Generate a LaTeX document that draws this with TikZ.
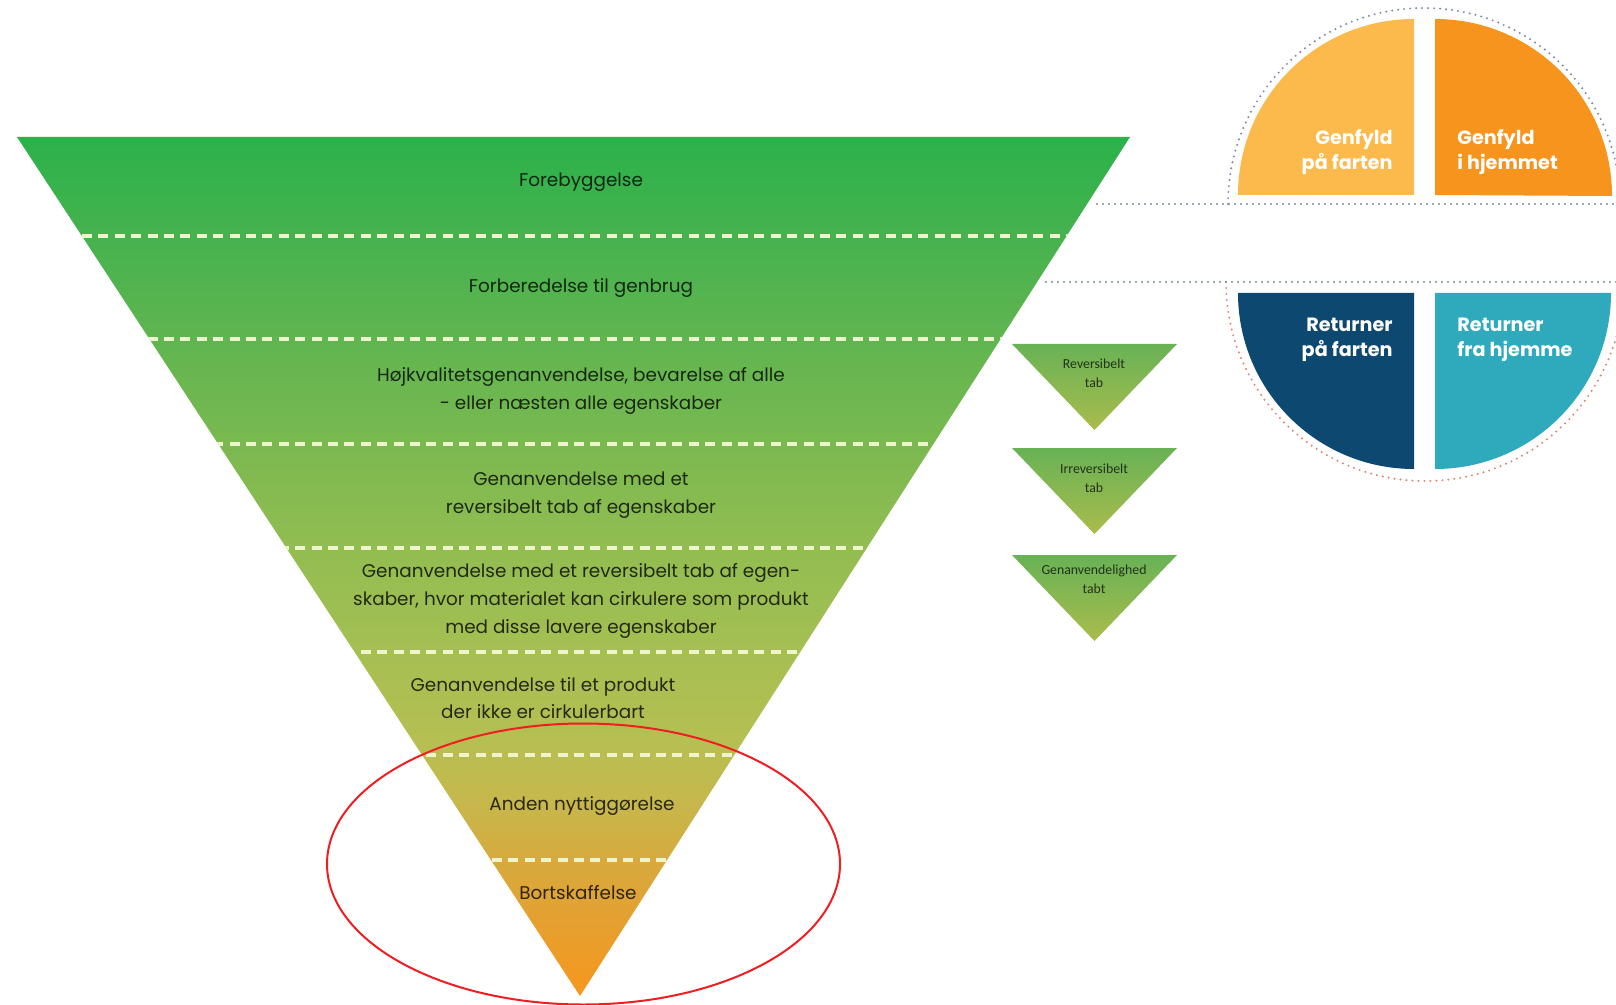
\documentclass[tikz,border=0pt]{standalone}
\usepackage{fontspec}
\setmainfont{Poppins}
\newfontfamily\minifont{Carlito}

% colours of the hierarchy, top to tip
\definecolor{lvlA}{RGB}{43,178,74}
\definecolor{lvlB}{RGB}{70,178,78}
\definecolor{lvlC}{RGB}{96,181,80}
\definecolor{lvlD}{RGB}{122,185,80}
\definecolor{lvlE}{RGB}{146,189,81}
\definecolor{lvlF}{RGB}{165,191,82}
\definecolor{lvlG}{RGB}{182,191,82}
\definecolor{lvlH}{RGB}{198,184,76}
\definecolor{lvlI}{RGB}{214,170,62}
\definecolor{lvlJ}{RGB}{229,160,48}
\definecolor{lvlK}{RGB}{246,151,30}
\definecolor{miniTop}{RGB}{104,178,86}
\definecolor{miniBot}{RGB}{170,188,76}
\definecolor{sepline}{RGB}{238,244,204}
\definecolor{refillgo}{RGB}{253,186,76}
\definecolor{refillhome}{RGB}{247,148,29}
\definecolor{returngo}{RGB}{12,72,112}
\definecolor{returnhome}{RGB}{46,170,188}
\definecolor{dotblue}{RGB}{122,136,168}
\definecolor{dotred}{RGB}{218,132,110}
\definecolor{markred}{RGB}{240,30,35}

\pgfdeclareverticalshading{hierarchy}{100bp}{color(0bp)=(lvlK); color(25bp)=(lvlK);
  color(29.4bp)=(lvlJ); color(32.9bp)=(lvlI); color(36.4bp)=(lvlH); color(39.9bp)=(lvlG);
  color(45.1bp)=(lvlF); color(51.1bp)=(lvlE); color(57.1bp)=(lvlD); color(63.2bp)=(lvlC);
  color(69.2bp)=(lvlB); color(75bp)=(lvlA); color(100bp)=(lvlA)}

\begin{document}
\begin{tikzpicture}[x=0.5pt,y=0.5pt,
  tier/.style={align=center,inner sep=0pt,text=black,text opacity=0.78,
    font=\fontsize{9.2}{13.8}\selectfont},
  minilabel/.style={align=center,inner sep=0pt,text=black,text opacity=0.72,
    font=\minifont\fontsize{6.9}{9.4}\selectfont},
  quadlabel/.style={inner sep=0pt,text=white,font=\bfseries\fontsize{9.6}{12.4}\selectfont},
  tierline/.style={sepline,line width=1.6pt,dash pattern=on 5pt off 3.2pt},
  dotline/.style={line width=1.1pt,line cap=round,dash pattern=on 0pt off 3pt}]
\fill[white] (0,0) rectangle (1616,-1005);
\useasboundingbox (0,0) rectangle (1616,-1005);

% inverted pyramid
\coordinate (tl) at (17,-137);
\coordinate (tr) at (1130,-137);
\coordinate (tip) at (580,-996);
\shade[shading=hierarchy] (tl) -- (tr) -- (tip) -- cycle;
\begin{scope}
  \clip (tl) -- (tr) -- (tip) -- cycle;
  \foreach \y in {236,339,444,548,652,755,860}
    \draw[tierline] (0,-\y) -- (1200,-\y);
\end{scope}

\node at (581,-182) (prevent) [tier] {Forebyggelse};
\node at (581,-288) (reuse) [tier] {Forberedelse til genbrug};
\node at (581,-391) (highq) [tier] {Højkvalitetsgenanvendelse, bevarelse af alle\\- eller næsten alle egenskaber};
\node at (581,-495) (revloss) [tier] {Genanvendelse med et\\reversibelt tab af egenskaber};
\node at (581,-601) (lowcirc) [tier] {Genanvendelse med et reversibelt tab af egen-\\skaber, hvor materialet kan cirkulere som produkt\\med disse lavere egenskaber};
\node at (543,-698) (noncirc) [tier] {Genanvendelse til et produkt\\der ikke er cirkulerbart};
\node at (582,-806) (recover) [tier] {Anden nyttiggørelse};
\node at (578,-893) (dispose) [tier] {Bortskaffelse};

% small loss triangles
\foreach \t in {344,448,555}
  \shade[top color=miniTop,bottom color=miniBot] (1012,-\t) -- (1177,-\t) -- (1094.5,-\t-86) -- cycle;
\node at (1094,-373) (revtab) [minilabel] {Reversibelt\\tab};
\node at (1094,-478) (irrevtab) [minilabel] {Irreversibelt\\tab};
\node at (1094,-579) (lost) [minilabel] {Genanvendelighed\\tabt};

% refill / return circle
\fill[refillgo] (1414,-195) -- (1238,-195) arc[start angle=180,end angle=90,radius=176] -- cycle;
\fill[refillhome] (1435,-195) -- (1435,-19) arc[start angle=90,end angle=0,radius=177] -- cycle;
\fill[returngo] (1414,-293) -- (1238,-293) arc[start angle=180,end angle=270,radius=176] -- cycle;
\fill[returnhome] (1435,-293) -- (1611,-293) arc[start angle=0,end angle=-90,radius=176] -- cycle;
\draw[dotline,dotblue] (1228,-204) arc[start angle=180,end angle=0,radius=196];
\draw[dotline,dotred] (1226,-282) arc[start angle=180,end angle=360,radius=199];
\draw[dotline,dotblue] (1097,-204) -- (1616,-204);
\draw[dotline,dotblue] (1046,-282) -- (1616,-282);

\node at (1393,-152) (gentogo) [quadlabel,anchor=east,align=right] {Genfyld\\på farten};
\node at (1457,-152) (gentohome) [quadlabel,anchor=west,align=left] {Genfyld\\i hjemmet};
\node at (1393,-340) (rettogo) [quadlabel,anchor=east,align=right] {Returner\\på farten};
\node at (1457,-340) (rettohome) [quadlabel,anchor=west,align=left] {Returner\\fra hjemme};

% highlight round the two lowest levels
\draw[markred,line width=1pt] (583.5,-864) ellipse [x radius=256.5,y radius=140.5];
\end{tikzpicture}
\end{document}
